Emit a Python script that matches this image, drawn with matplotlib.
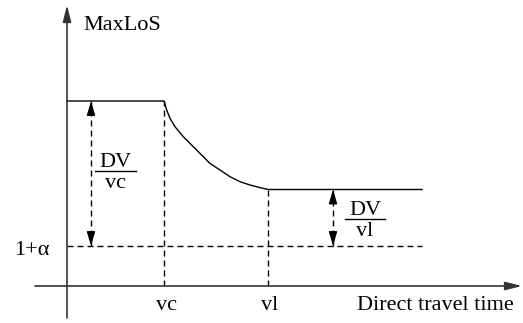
import matplotlib.pyplot as plt

plt.rcParams['font.family'] = ['Liberation Serif', 'DejaVu Serif']

# Diagram units: origin at the crossing of the two axes, y upward
MAX_LEVEL = 185      # flat MaxLoS before vc
FLAT_LEVEL = 96.5    # flat MaxLoS after vl
ALPHA_LEVEL = 40     # 1 + alpha
VC = 97
VL = 201
X_END = 355

# MaxLoS profile
profile_x = [0, 97, 99.7, 103, 108, 116.3, 126.3, 136.3, 143, 153, 163, 173,
             183, 193, 201, 355]
profile_y = [185, 185, 176, 167.7, 159.3, 149.3, 139.3, 129.3, 122.5, 116,
             109.3, 104.3, 101, 98.4, 96.5, 96.5]

tick_labels = ['vc', 'vl']
tick_pos = [VC, VL]

DASH = (0, (4.3, 2.9))
FS = 16

fig = plt.figure(figsize=(5.23, 3.23), dpi=100)
ax = fig.add_axes([0, 0, 1, 1])
ax.set_xlim(-67, 456)
ax.set_ylim(-37, 286)
ax.axis('off')

# axes with arrow heads
ax.annotate('', xy=(0, 281), xytext=(0, -32),
            arrowprops=dict(arrowstyle='-|>,head_length=1.0,head_width=0.25',
                            lw=1.2, color='#333333', shrinkA=0, shrinkB=0,
                            mutation_scale=10))
ax.annotate('', xy=(455, 0), xytext=(-32, 0),
            arrowprops=dict(arrowstyle='-|>,head_length=1.0,head_width=0.25',
                            lw=1.2, color='#333333', shrinkA=0, shrinkB=0,
                            mutation_scale=10))

# MaxLoS curve
ax.plot(profile_x, profile_y, color='black', lw=1.0)

# dashed guide lines
ax.plot([0, X_END], [ALPHA_LEVEL, ALPHA_LEVEL], color='black', lw=1.0, ls=DASH)
ax.plot([VC, VC], [0, MAX_LEVEL], color='black', lw=1.0, ls=DASH)
ax.plot([VL, VL], [0, FLAT_LEVEL], color='black', lw=1.0, ls=DASH)


def dashed_double_arrow(x, y0, y1):
    ax.plot([x, x], [y0, y1], color='black', lw=1.0, ls=DASH)
    for tip, base in [(y1, y1 - 10), (y0, y0 + 10)]:
        ax.annotate('', xy=(x, tip), xytext=(x, base),
                    arrowprops=dict(arrowstyle='-|>,head_length=0.85,head_width=0.25',
                                    lw=1.0, color='black', shrinkA=0, shrinkB=0,
                                    mutation_scale=10))


def fraction(xc, ybar, num, den, half):
    ax.plot([xc - half, xc + half], [ybar, ybar], color='black', lw=1.0)
    ax.text(xc, ybar + 4, num, ha='center', va='baseline', fontsize=FS)
    ax.text(xc, ybar - 17, den, ha='center', va='baseline', fontsize=FS)


dashed_double_arrow(24, ALPHA_LEVEL, MAX_LEVEL)
dashed_double_arrow(266, ALPHA_LEVEL, FLAT_LEVEL)

fraction(48.5, 115, 'DV', 'vc', 20.5)
fraction(298, 66.7, 'DV', 'vl', 20)

# labels
ax.text(16, 256, 'MaxLoS', ha='left', va='baseline', fontsize=FS)
ax.text(-18, 31, '1+\u03b1', ha='right', va='baseline', fontsize=FS)
for x, lab in zip(tick_pos, tick_labels):
    ax.text(x + 2, -24, lab, ha='center', va='baseline', fontsize=FS)
ax.text(290, -24, 'Direct travel time', ha='left', va='baseline', fontsize=FS)

fig.savefig('out.png', dpi=100)
